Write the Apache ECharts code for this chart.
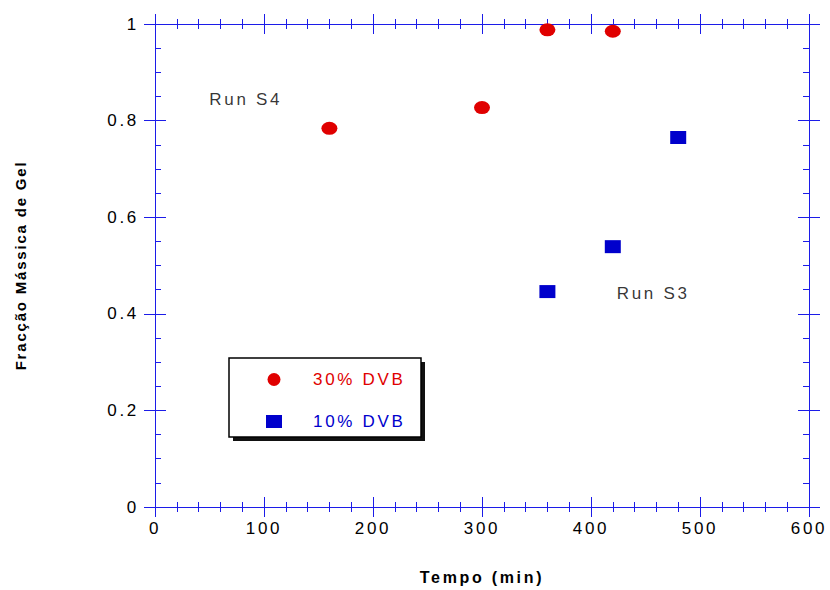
<!DOCTYPE html>
<html>
<head>
<meta charset="utf-8">
<script src="https://cdn.jsdelivr.net/npm/echarts@6/dist/echarts.min.js"></script>
<style>
  html, body { margin: 0; padding: 0; background: #ffffff; }
  #chart { width: 830px; height: 590px; }
  #chart text { letter-spacing: 2.7px; }
  #chart text.tight { letter-spacing: 1.8px; }
</style>
</head>
<body>
<div id="chart"></div>
<script>
// Gel mass fraction vs. time for two crosslinker loadings
const seriesNames = ['30% DVB', '10% DVB'];
const dvb30Time = [160, 300, 360, 420];
const dvb30Gel  = [0.784, 0.827, 0.988, 0.985];
const dvb10Time = [360, 420, 480];
const dvb10Gel  = [0.446, 0.539, 0.765];

// run annotations placed in data coordinates
const noteText = ['Run S4', 'Run S3'];
const noteTime = [49.8, 423.6];
const noteGel  = [0.844, 0.443];

const xTitle = 'Tempo (min)';
const yTitle = 'Fracção Mássica de Gel';

const FONT = 'Liberation Sans';
const INK = '#000000';
const AXIS_BLUE = '#1c1ce8';
const RED = '#e00000';
const BLUE = '#0000cc';
const ELLIPSE = 'path://M0,50a50,50 0 1,0 100,0a50,50 0 1,0 -100,0z';

const chart = echarts.init(document.getElementById('chart'), null, { renderer: 'svg' });

// the rotated axis title uses tighter tracking than the rest of the text
function tightenTitle() {
  document.querySelectorAll('#chart text').forEach(t => {
    if (t.textContent.trim() === yTitle) t.classList.add('tight');
  });
}
chart.on('finished', tightenTitle);
chart.on('rendered', tightenTitle);

function xAxisPart(position, inside, withLabels) {
  return {
    type: 'value', position: position, min: 0, max: 600, interval: 100,
    axisLine: { show: true, onZero: false, lineStyle: { color: AXIS_BLUE, width: 1 } },
    axisTick: { show: true, inside: inside, length: 10, lineStyle: { color: AXIS_BLUE, width: 1 } },
    minorTick: { show: true, splitNumber: 5, length: 5, lineStyle: { color: AXIS_BLUE, width: 1 } },
    splitLine: { show: false },
    axisLabel: withLabels
      ? { show: true, margin: 13, color: INK, fontFamily: FONT, fontSize: 17 }
      : { show: false },
    name: withLabels ? xTitle : '',
    nameLocation: 'middle', nameGap: 62,
    nameTextStyle: { color: INK, fontFamily: FONT, fontSize: 16, fontWeight: 'bold' }
  };
}

function yAxisPart(position, inside, withLabels) {
  return {
    type: 'value', position: position, min: 0, max: 1, interval: 0.2,
    axisLine: { show: true, onZero: false, lineStyle: { color: AXIS_BLUE, width: 1 } },
    axisTick: { show: true, inside: inside, length: 11, lineStyle: { color: AXIS_BLUE, width: 1 } },
    minorTick: { show: inside, splitNumber: 4, length: 6, lineStyle: { color: AXIS_BLUE, width: 1 } },
    splitLine: { show: false },
    axisLabel: withLabels
      ? { show: true, margin: 16, color: INK, fontFamily: FONT, fontSize: 17,
          formatter: v => (v === 0 || v === 1) ? String(v) : v.toFixed(1) }
      : { show: false },
    name: withLabels ? yTitle : '',
    nameLocation: 'middle', nameGap: 127, nameRotate: 90,
    nameTextStyle: { color: INK, fontFamily: FONT, fontSize: 15, fontWeight: 'bold' }
  };
}

chart.setOption({
  animation: false,
  backgroundColor: '#ffffff',
  grid: { left: 155, top: 24, right: 21, bottom: 83, containLabel: false },
  xAxis: [
    xAxisPart('bottom', true, true),
    xAxisPart('bottom', false, false),
    xAxisPart('top', true, false),
    xAxisPart('top', false, false)
  ],
  yAxis: [
    yAxisPart('left', true, true),
    yAxisPart('left', false, false),
    yAxisPart('right', true, false),
    yAxisPart('right', false, false)
  ],
  graphic: [
    { type: 'rect', z: 1, shape: { x: 233, y: 362, width: 192, height: 79 },
      style: { fill: '#111111' } },
    { type: 'rect', z: 2, shape: { x: 229, y: 358, width: 192, height: 79 },
      style: { fill: '#ffffff', stroke: '#000000', lineWidth: 1.5 } }
  ],
  legend: {
    z: 10,
    orient: 'vertical',
    left: 266, top: 371,
    itemWidth: 16, itemHeight: 13, itemGap: 25,
    padding: 0,
    data: [
      { name: seriesNames[0], icon: ELLIPSE, textStyle: { color: RED } },
      { name: seriesNames[1], icon: 'rect', textStyle: { color: BLUE } }
    ],
    textStyle: { fontFamily: FONT, fontSize: 17, padding: [0, 0, 0, 26] }
  },
  series: [
    {
      name: seriesNames[0], type: 'scatter', xAxisIndex: 0, yAxisIndex: 0,
      symbol: ELLIPSE, symbolSize: [16, 13], symbolKeepAspect: false,
      itemStyle: { color: RED, opacity: 1 },
      data: dvb30Time.map((t, i) => [t, dvb30Gel[i]])
    },
    {
      name: seriesNames[1], type: 'scatter', xAxisIndex: 0, yAxisIndex: 0,
      symbol: 'rect', symbolSize: [16, 13],
      itemStyle: { color: BLUE, opacity: 1 },
      data: dvb10Time.map((t, i) => [t, dvb10Gel[i]])
    },
    {
      name: 'notes', type: 'scatter', xAxisIndex: 0, yAxisIndex: 0,
      symbolSize: 0, silent: true,
      label: {
        show: true, position: 'right', distance: 0,
        color: INK, fontFamily: FONT, fontSize: 17,
        formatter: p => p.name
      },
      data: noteTime.map((t, i) => ({ name: noteText[i], value: [t, noteGel[i]] }))
    }
  ]
});
tightenTitle();
setTimeout(tightenTitle, 0);
</script>
</body>
</html>
